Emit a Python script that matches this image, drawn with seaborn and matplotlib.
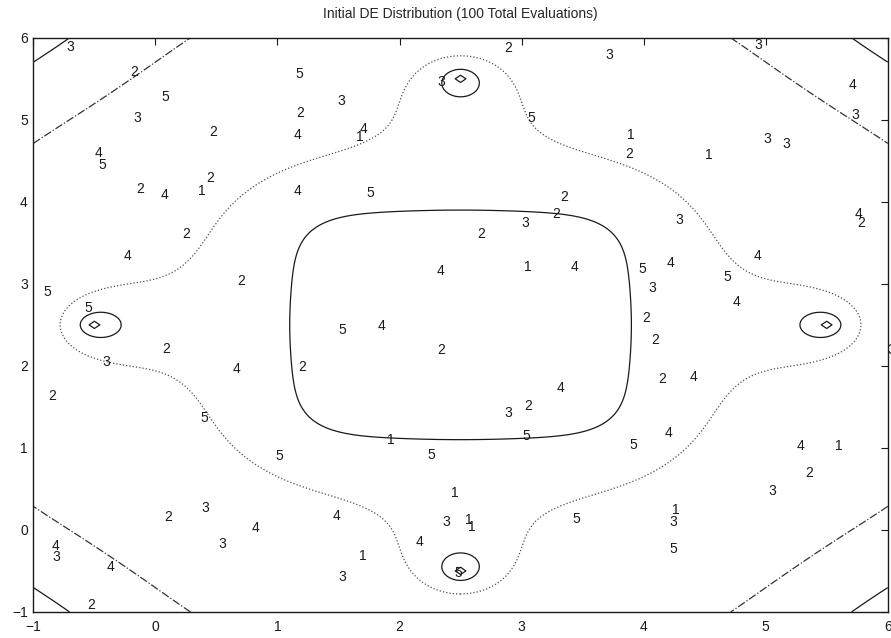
import numpy as np
import matplotlib
matplotlib.use("Agg")
import matplotlib.pyplot as plt
import seaborn as sns

# label positions (left edge, vertical centre) and their text
pts_x = [-0.73, -0.21, 1.15, 0.05, -0.18, 1.15, 0.44, 1.13, -0.50, -0.47,
         -0.16, 0.04, 0.35, 0.42, 1.13, 0.22, -0.26, 0.67, -0.92, -0.58,
         2.86, 2.31, 1.49, 1.67, 1.64, 3.05, 1.73, 3.32, 3.25, 3.00,
         2.64, 2.30, 3.02, 3.40,
         1.50, 1.82, 2.31, 3.29, 2.86, 3.02, 1.90, 3.01, 2.23, 2.42,
         1.45, 2.35, 2.54, 2.56, 2.13, 1.67, 1.50, 2.45, 3.42,
         0.06, -0.43, 0.63, 1.17, -0.88, 0.37, 0.98, 0.07, 0.38, 0.79,
         0.52, -0.85, -0.84, -0.40, -0.56,
         3.69, 4.91, 5.68, 5.70, 3.86, 3.85, 4.50, 4.98, 5.14, 5.73,
         5.75, 4.26, 4.90, 4.19, 3.96, 4.65, 4.04, 4.73, 3.99,
         4.06, 6.00, 4.12, 4.38, 4.17, 3.88, 5.25, 5.57, 5.32, 5.02,
         4.23, 4.21, 4.21]
pts_y = [5.89, 5.58, 5.56, 5.28, 5.02, 5.08, 4.85, 4.82, 4.59, 4.45,
         4.16, 4.08, 4.13, 4.29, 4.13, 3.61, 3.34, 3.03, 2.90, 2.70,
         5.87, 5.46, 5.23, 4.89, 4.79, 5.02, 4.11, 4.06, 3.85, 3.74,
         3.61, 3.16, 3.20, 3.20,
         2.44, 2.49, 2.19, 1.73, 1.42, 1.51, 1.10, 1.14, 0.91, 0.45,
         0.17, 0.10, 0.12, 0.04, -0.15, -0.32, -0.57, -0.53, 0.13,
         2.21, 2.05, 1.96, 1.99, 1.63, 1.36, 0.90, 0.16, 0.27, 0.02,
         -0.17, -0.20, -0.33, -0.45, -0.91,
         5.79, 5.91, 5.43, 5.06, 4.81, 4.58, 4.57, 4.76, 4.70, 3.85,
         3.74, 3.78, 3.34, 3.25, 3.18, 3.08, 2.95, 2.78, 2.58,
         2.31, 2.19, 1.84, 1.86, 1.18, 1.04, 1.02, 1.02, 0.70, 0.47,
         0.24, 0.10, -0.23]
pts_lab = ['3', '2', '5', '5', '3', '2', '2', '4', '4', '5',
           '2', '4', '1', '2', '4', '2', '4', '2', '5', '5',
           '2', '3', '3', '4', '1', '5', '5', '2', '2', '3',
           '2', '4', '1', '4',
           '5', '4', '2', '4', '3', '2', '1', '5', '5', '1',
           '4', '3', '1', '1', '4', '1', '3', '5', '5',
           '2', '3', '4', '2', '2', '5', '5', '2', '3', '4',
           '3', '4', '3', '4', '2',
           '3', '3', '4', '3', '1', '2', '1', '3', '3', '4',
           '2', '3', '4', '4', '5', '5', '3', '4', '2',
           '2', '3', '2', '4', '4', '5', '4', '1', '2', '3',
           '1', '3', '5']

# wells of the test surface and contour levels
well_x = [-0.5, 5.5, 2.5, 2.5]
well_y = [2.5, 2.5, -0.5, 5.5]
lev_solid = [1.27, 5.3]
lev_well = [-0.4]
lev_dot = [1.93]
lev_dashdot = [4.1]

sns.set_theme(style="white")
plt.rcParams['font.family'] = ['Liberation Sans', 'DejaVu Sans']


def surface(step):
    g = np.arange(-1, 6.0001, step)
    X, Y = np.meshgrid(g, g)
    U = X - 2.5
    V = Y - 2.5
    F = (U**6 + V**6 + 0.11 * np.abs(U * V)**5) ** (1 / 6)
    for wx, wy in zip(well_x, well_y):
        d = np.hypot(X - wx, Y - wy)
        F = F - 2.26 * np.exp(-d / 0.543) - 3.0 * np.exp(-d**2 / 0.00245)
    return X, Y, F


X, Y, F = surface(0.02)
Xc, Yc, Fc = surface(0.05)   # coarse grid, gives the little diamonds

fig = plt.figure(figsize=(8.91, 6.38), dpi=100)
ax = fig.add_axes([0.0374, 0.0408, 0.959, 0.900])

ax.contour(X, Y, F, levels=lev_solid, colors='k', linewidths=0.9, linestyles='solid')
ax.contour(Xc, Yc, Fc, levels=lev_well, colors='k', linewidths=0.9, linestyles='solid')
ax.contour(X, Y, F, levels=lev_dot, colors='0.3', linewidths=0.9, linestyles='dotted')
ax.contour(X, Y, F, levels=lev_dashdot, colors='0.2', linewidths=0.9, linestyles='dashdot')

for x, y, s in zip(pts_x, pts_y, pts_lab):
    ax.text(x, y, s, ha='left', va='center', fontsize=10, color='k')

ax.set_xlim(-1, 6)
ax.set_ylim(-1, 6)
ax.set_xticks(range(-1, 7))
ax.set_yticks(range(-1, 7))
ax.tick_params(direction='in', top=True, right=True, length=5, width=0.8,
               labelsize=10, colors='k', pad=4)
ax.tick_params(axis='x', pad=6)
for sp in ax.spines.values():
    sp.set_color('k')
    sp.set_linewidth(1.0)
ax.set_title('Initial DE Distribution (100 Total Evaluations)', fontsize=10, pad=14)

fig.savefig('out.png', dpi=100)
